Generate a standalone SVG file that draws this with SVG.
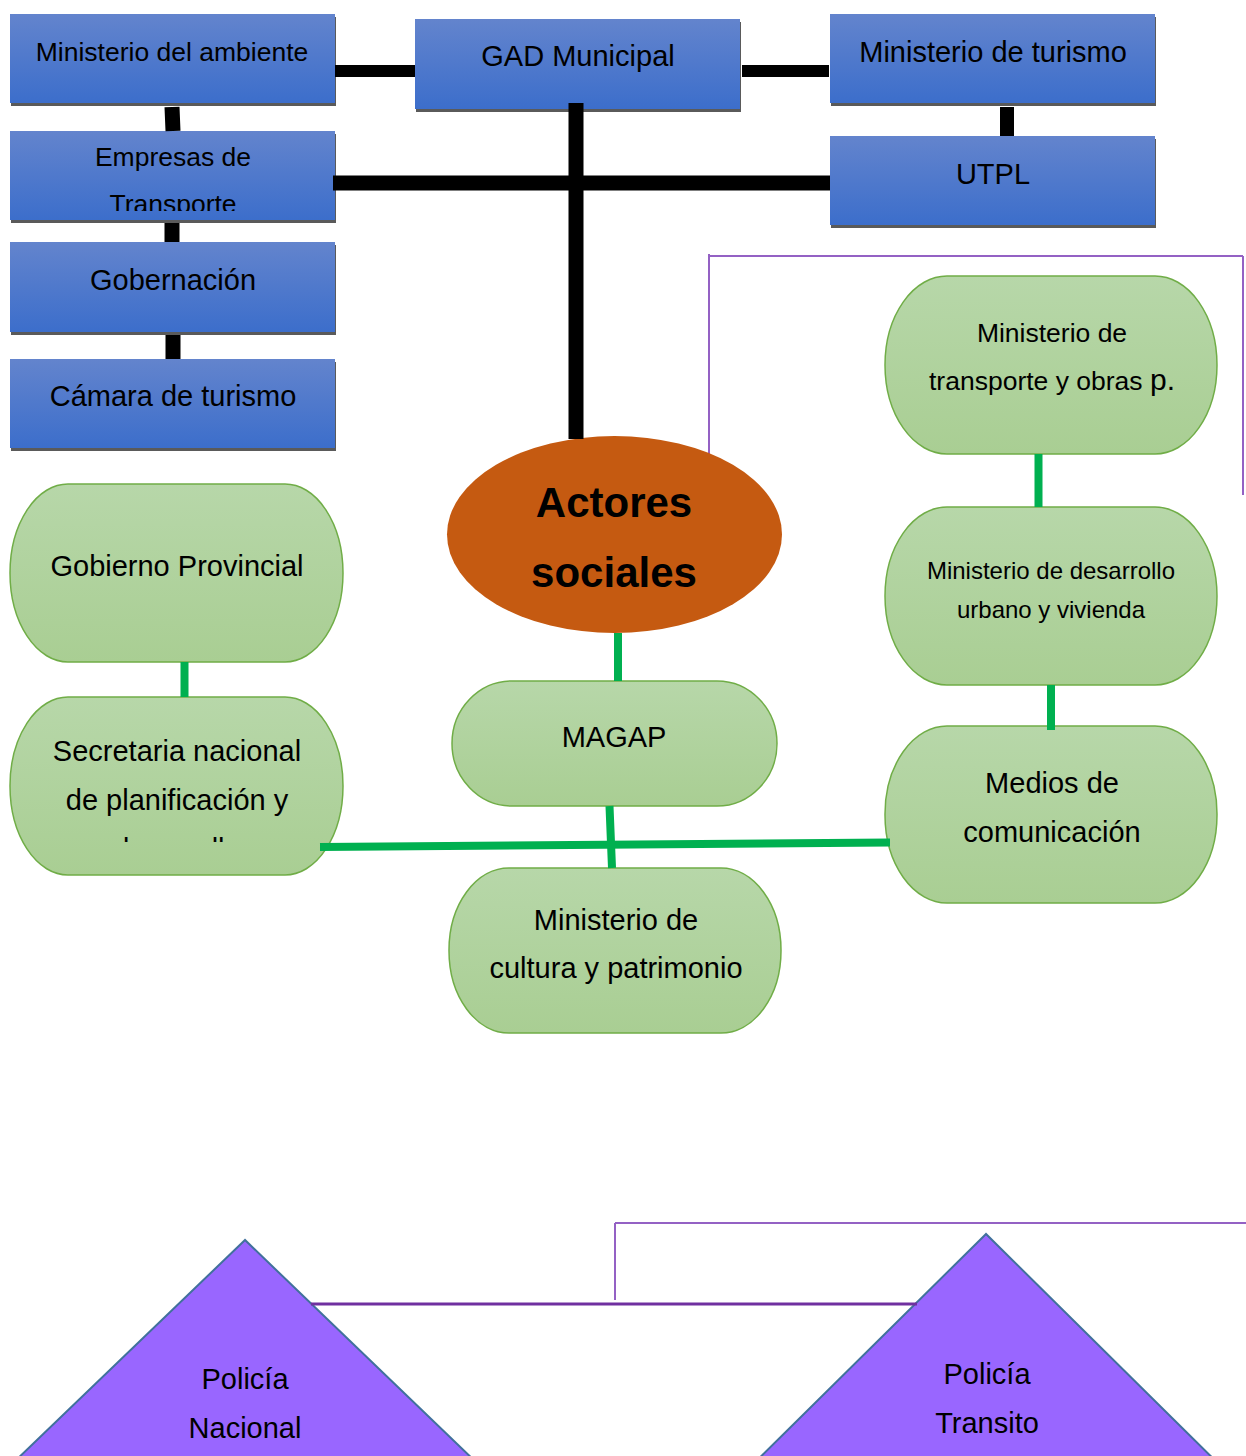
<svg xmlns="http://www.w3.org/2000/svg" width="1246" height="1456" viewBox="0 0 1246 1456">
<defs>
<linearGradient id="gBlue" x1="0" y1="0" x2="0" y2="1">
<stop offset="0" stop-color="#6384cd"/><stop offset="1" stop-color="#3c6ecb"/>
</linearGradient>
<linearGradient id="gGreen" x1="0" y1="0" x2="0" y2="1">
<stop offset="0" stop-color="#b7d7a9"/><stop offset="1" stop-color="#a9ce93"/>
</linearGradient>
<clipPath id="clipEmp"><rect x="10" y="131" width="325" height="80"/></clipPath>
<clipPath id="clipSec"><rect x="10" y="697" width="333" height="145"/></clipPath>
</defs>
<style>
.shadow{fill:#5a5a5a}
.blue{fill:url(#gBlue)}
.green{fill:url(#gGreen);stroke:#70ad47;stroke-width:1.5}
.t{font-family:"Liberation Sans",Arial,sans-serif;font-size:29px;fill:#000;text-anchor:middle}
.s{font-size:26.5px}
.xs{font-size:24px}
.b{font-weight:bold;font-size:42px}
.blk{stroke:#000;fill:none}
.grn{stroke:#00b050;fill:none;stroke-width:8}
.pur{stroke:#9461c4;fill:none;stroke-width:2}
.pur2{stroke:#7030a0;fill:none;stroke-width:3}
.tri{fill:#9966ff;stroke:#41719c;stroke-width:2}
</style>
<g id="purple-lines">
<path class="pur" d="M709,254 V460 M708,256 H1243 M1243,256 V495"/>
<path class="pur" d="M615,1223 H1246 M615,1223 V1300"/>
</g>
<g id="n-ambiente"><rect class="shadow" x="11" y="17" width="325" height="89"/><rect class="blue" x="10" y="14" width="325" height="89"/><text class="t s" x="172" y="61">Ministerio del ambiente</text></g>
<g id="n-gad"><rect class="shadow" x="416" y="22" width="325" height="90"/><rect class="blue" x="415" y="19" width="325" height="90"/><text class="t" x="578" y="66">GAD Municipal</text></g>
<g id="n-turismo"><rect class="shadow" x="831" y="17" width="325" height="89"/><rect class="blue" x="830" y="14" width="325" height="89"/><text class="t" x="993" y="62">Ministerio de turismo</text></g>
<g id="n-empresas"><rect class="shadow" x="11" y="134" width="325" height="89"/><rect class="blue" x="10" y="131" width="325" height="89"/><g clip-path="url(#clipEmp)"><text class="t s" x="173" y="166">Empresas de</text><text class="t s" x="173" y="213">Transporte</text></g></g>
<g id="n-utpl"><rect class="shadow" x="831" y="139" width="325" height="89"/><rect class="blue" x="830" y="136" width="325" height="89"/><text class="t" x="993" y="184">UTPL</text></g>
<g id="n-gobernacion"><rect class="shadow" x="11" y="245" width="325" height="90"/><rect class="blue" x="10" y="242" width="325" height="90"/><text class="t" x="173" y="290">Gobernación</text></g>
<g id="n-camara"><rect class="shadow" x="11" y="362" width="325" height="89"/><rect class="blue" x="10" y="359" width="325" height="89"/><text class="t" x="173" y="406">Cámara de turismo</text></g>
<g id="n-actores"><ellipse cx="614.5" cy="534.5" rx="167.5" ry="98.5" fill="#c55a11"/><text class="t b" x="614" y="517">Actores</text><text class="t b" x="614" y="587">sociales</text></g>
<g id="n-gobprov"><rect class="green" x="10" y="484" width="333" height="178" rx="58" ry="89"/><text class="t" x="177" y="576">Gobierno Provincial</text></g>
<g id="n-senplades"><rect class="green" x="10" y="697" width="333" height="178" rx="58" ry="89"/><g clip-path="url(#clipSec)"><text class="t" x="177" y="761">Secretaria nacional</text><text class="t" x="177" y="810">de planificación y</text><text class="t" x="177" y="859">desarrollo</text></g></g>
<g id="n-magap"><rect class="green" x="452" y="681" width="325" height="125" rx="60" ry="62.5"/><text class="t" x="614" y="747">MAGAP</text></g>
<g id="n-cultura"><rect class="green" x="449" y="868" width="332" height="165" rx="60" ry="82"/><text class="t" x="616" y="930">Ministerio de</text><text class="t" x="616" y="978">cultura y patrimonio</text></g>
<g id="n-mtop"><rect class="green" x="885" y="276" width="332" height="178" rx="62" ry="89"/><text class="t s" x="1052" y="342">Ministerio de</text><text class="t s" x="1052" y="390">transporte y obras <tspan style="font-size:30px">p.</tspan></text></g>
<g id="n-miduvi"><rect class="green" x="885" y="507" width="332" height="178" rx="62" ry="89"/><text class="t xs" x="1051" y="579">Ministerio de desarrollo</text><text class="t xs" x="1051" y="618">urbano y vivienda</text></g>
<g id="n-medios"><rect class="green" x="885" y="726" width="332" height="177" rx="62" ry="88"/><text class="t" x="1052" y="793">Medios de</text><text class="t" x="1052" y="842">comunicación</text></g>
<g id="n-policia-nacional"><polygon class="tri" points="245,1240 -15,1490 505,1490"/><text class="t" x="245" y="1389">Policía</text><text class="t" x="245" y="1438">Nacional</text></g>
<g id="n-policia-transito"><polygon class="tri" points="986,1234 727,1490 1245,1490"/><text class="t" x="987" y="1384">Policía</text><text class="t" x="987" y="1433">Transito</text></g>
<g id="connectors">
<path class="blk" stroke-width="12" d="M335,71 H415 M742,71 H829"/>
<path class="blk" stroke-width="14" d="M1007,107 V136"/>
<path class="blk" stroke-width="15" d="M333,183 H830 M576,103 V439"/>
<path class="blk" stroke-width="15" d="M172,107 L173,131 M172,223 L172,242 M173,335 V359"/>
<path class="grn" d="M184.5,662 V697 M618,633 V681 M609.5,806 L612,868 M1038.5,454 V507 M1051,685 V730"/>
<path class="grn" d="M320,847 L890,842.5"/>
<path class="pur2" d="M311,1304 H917"/>
</g>
</svg>
